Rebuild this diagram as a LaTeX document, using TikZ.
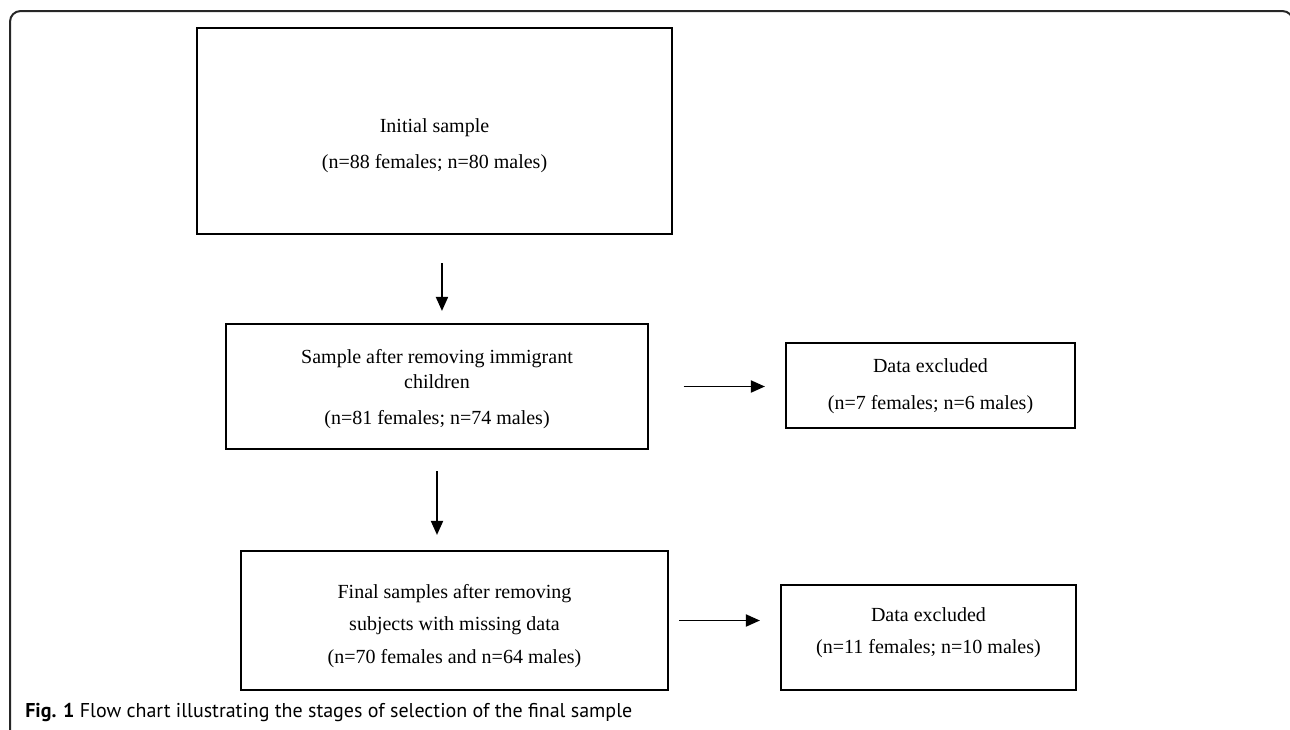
\documentclass[tikz,border=0pt]{standalone}
\usepackage{fontspec}
\setmainfont{Liberation Serif}
\newfontfamily\capfont{PT Sans}
\usetikzlibrary{arrows.meta}
\tikzset{
  box/.style={draw=black, line width=1.6pt, inner sep=0pt},
  txt/.style={anchor=base, inner sep=0pt, font=\fontsize{15}{18}\selectfont},
  arr/.style={line width=1.4pt, -{Triangle[length=10.5pt,width=9pt]}},
  frame/.style={draw=black!85, line width=1.5pt, rounded corners=8pt}
}
\begin{document}
\begin{tikzpicture}[x=0.75pt,y=-0.75pt]
\useasboundingbox (0,0) rectangle (1290,729);
\draw[frame] (10,745) -- (10,11) -- (1293,11) -- (1293,745);

\node[box, minimum width=356.25pt, minimum height=154.5pt] (b1) at (434.5,131) {};
\node[box, minimum width=316.5pt, minimum height=93.75pt] (b2) at (437,386.5) {};
\node[box, minimum width=216.75pt, minimum height=63.75pt] (b3) at (930.5,385.5) {};
\node[box, minimum width=320.25pt, minimum height=104.25pt] (b4) at (454.5,620.5) {};
\node[box, minimum width=221.25pt, minimum height=78.75pt] (b5) at (928.5,637.5) {};

\node[txt] (t1a) at (434.5,132) {Initial sample};
\node[txt] (t1b) at (434.5,168) {(n=88 females; n=80 males)};
\node[txt] (t2a) at (437,363) {Sample after removing immigrant};
\node[txt] (t2b) at (437,388) {children};
\node[txt] (t2c) at (437,424) {(n=81 females; n=74 males)};
\node[txt] (t3a) at (930.5,372) {Data excluded};
\node[txt] (t3b) at (930.5,409) {(n=7 females; n=6 males)};
\node[txt] (t4a) at (454.5,598) {Final samples after removing};
\node[txt] (t4b) at (454.5,630) {subjects with missing data};
\node[txt] (t4c) at (454.5,663) {(n=70 females and n=64 males)};
\node[txt] (t5a) at (928.5,621) {Data excluded};
\node[txt] (t5b) at (928.5,653) {(n=11 females; n=10 males)};

\draw[arr, shorten <=21pt, shorten >=9pt] ([xshift=5.6pt]b1.south) -- ([xshift=5.6pt]b1.south |- b2.north);
\draw[arr, shorten <=26pt, shorten >=15pt] (b2.east) -- (b2.east -| b3.west);
\draw[arr, shorten <=15.75pt, shorten >=11.25pt] (b2.south) -- (b2.south |- b4.north);
\draw[arr, shorten <=7.5pt, shorten >=15pt] (b4.east) -- (b4.east -| b5.west);

\node[anchor=base west, inner sep=0pt, font=\capfont\fontsize{15}{18}\selectfont] (cap) at (25,717)
  {\textbf{Fig. 1} Flow chart illustrating the stages of selection of the final sample};
\end{tikzpicture}
\end{document}
